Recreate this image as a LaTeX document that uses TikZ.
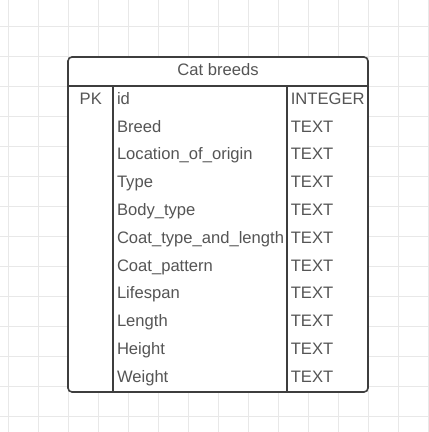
\documentclass[tikz,border=0pt]{standalone}
\usepackage{fontspec}
\setmainfont{Liberation Sans}
\definecolor{gridgray}{HTML}{E8E8E8}
\definecolor{linegray}{HTML}{3E3E3E}
\definecolor{textgray}{HTML}{555555}
\begin{document}
\begin{tikzpicture}[x=1pt, y=-1pt,
    cell/.style={anchor=base west, inner sep=0pt, text=textgray, font=\fontsize{16.6}{19}\selectfont},
    title/.style={cell, anchor=base},
    frame/.style={draw=linegray, line width=1.6pt},
    divider/.style={draw=linegray, line width=1.2pt}]
    % Draw the background grid
    \fill[white] (0,0) rectangle (429,432);
    \useasboundingbox (0,0) rectangle (429,432);
    \foreach \x in {8.3,38.3,...,429} \draw[gridgray, line width=1pt] (\x,0) -- (\x,432);
    \foreach \y in {26.5,56.5,...,432} \draw[gridgray, line width=1pt] (0,\y) -- (429,\y);

    % Draw the table frame
    \coordinate (nw) at (68,57);
    \coordinate (se) at (368,392);
    \fill[white, rounded corners=4pt] (nw) rectangle (se);
    \draw[divider] (113,86) -- (113,392);
    \draw[divider] (287,86) -- (287,392);
    \draw[frame] (68,86) -- (368,86);
    \draw[frame, rounded corners=4pt] (nw) rectangle (se);

    % Add the header and the key
    \node[title] (header) at (218,75.9) {Cat breeds};
    \node[title] (pk) at (90.8,104.4) {PK};

    % Add the fields and their types
    \foreach \field/\type [count=\i] in {id/INTEGER, Breed/TEXT, Location\_of\_origin/TEXT,
        Type/TEXT, Body\_type/TEXT, Coat\_type\_and\_length/TEXT, Coat\_pattern/TEXT,
        Lifespan/TEXT, Length/TEXT, Height/TEXT, Weight/TEXT} {
        \node[cell] (field\i) at (116.8,86+27.8*\i-9.5) {\field};
        \node[cell] (type\i) at (290.6,86+27.8*\i-9.5) {\type};
    }
\end{tikzpicture}
\end{document}
